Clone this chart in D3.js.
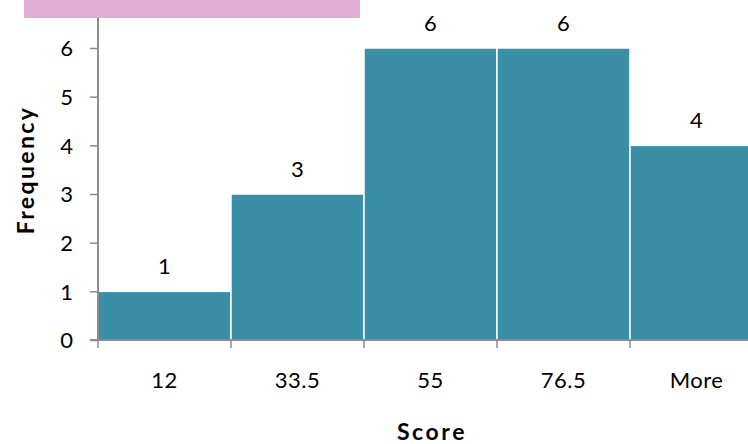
<!DOCTYPE html>
<html><head><meta charset="utf-8">
<script src="https://cdn.jsdelivr.net/npm/d3@7"></script>
<style>body{margin:0;background:#fff;overflow:hidden}svg{display:block}text{font-family:"Gill Sans","Gill Sans MT",Lato,sans-serif}</style>
</head><body><svg id="c" width="748" height="444"></svg>
<script>
const categories = ["12","33.5","55","76.5","More"];
const frequencies = [1,3,6,6,4];
const yTicks = [0,1,2,3,4,5,6];

const svg = d3.select("#c");
const x0 = 98, x1 = 763, yTop = 48, yBot = 340;
const x = d3.scaleBand().domain(categories).range([x0, x1]).padding(0);
const y = d3.scaleLinear().domain([0,6]).range([yBot, yTop]);
const FF = '"Gill Sans","Gill Sans MT",Lato,sans-serif';

// pink banner
svg.append("rect").attr("x",24).attr("y",0).attr("width",336).attr("height",18).attr("fill","#e3acd7");

// bars
svg.append("g").selectAll("rect").data(categories).join("rect")
  .attr("x", d => x(d)).attr("y", (d,i) => y(frequencies[i]))
  .attr("width", x.bandwidth()).attr("height", (d,i) => y(0) - y(frequencies[i]))
  .attr("fill","#3a8fa6").attr("stroke","#fff").attr("stroke-width",1.5);

// value labels
svg.append("g").selectAll("text").data(categories).join("text")
  .attr("x", d => x(d) + x.bandwidth()/2).attr("y", (d,i) => y(frequencies[i]) - 17)
  .attr("text-anchor","middle").attr("font-size",22).attr("fill","#000")
  .text((d,i) => frequencies[i]);

// y axis
const ya = svg.append("g").attr("transform",`translate(${x0},0)`)
  .call(d3.axisLeft(y).tickValues(yTicks).tickSize(8).tickPadding(17).tickFormat(d3.format("d")));
ya.select(".domain").attr("stroke","#8c8c8c").attr("stroke-width",2).attr("d",`M-8,${yBot}H0V${yTop-30}`);
ya.selectAll(".tick line").attr("stroke","#8c8c8c").attr("stroke-width",1.5);
ya.selectAll(".tick text").attr("font-size",22).attr("fill","#000").attr("font-family",FF).attr("dy","0.36em");

// x axis
const xa = svg.append("g").attr("transform",`translate(0,${yBot})`)
  .call(d3.axisBottom(x).tickSize(0));
xa.select(".domain").attr("stroke","#8c8c8c").attr("stroke-width",2).attr("d",`M${x0},0H${x1}`);
xa.selectAll(".tick text").attr("font-size",22).attr("fill","#000").attr("font-family",FF)
  .attr("y",48).attr("dy",0).attr("letter-spacing",0.5);
// boundary ticks
const bounds = categories.map(d => x(d)).concat([x1]);
svg.append("g").selectAll("line").data(bounds).join("line")
  .attr("x1", d => d).attr("x2", d => d).attr("y1", yBot).attr("y2", yBot + 8)
  .attr("stroke","#8c8c8c").attr("stroke-width",1.5);

// titles
svg.append("text").attr("x",432).attr("y",440).attr("text-anchor","middle")
  .attr("font-size",23).attr("font-weight","bold").attr("letter-spacing",2.6).text("Score");
svg.append("text").attr("transform","translate(34,170) rotate(-90)").attr("text-anchor","middle")
  .attr("font-size",23).attr("font-weight","bold").attr("letter-spacing",2.4).text("Frequency");
</script></body></html>
